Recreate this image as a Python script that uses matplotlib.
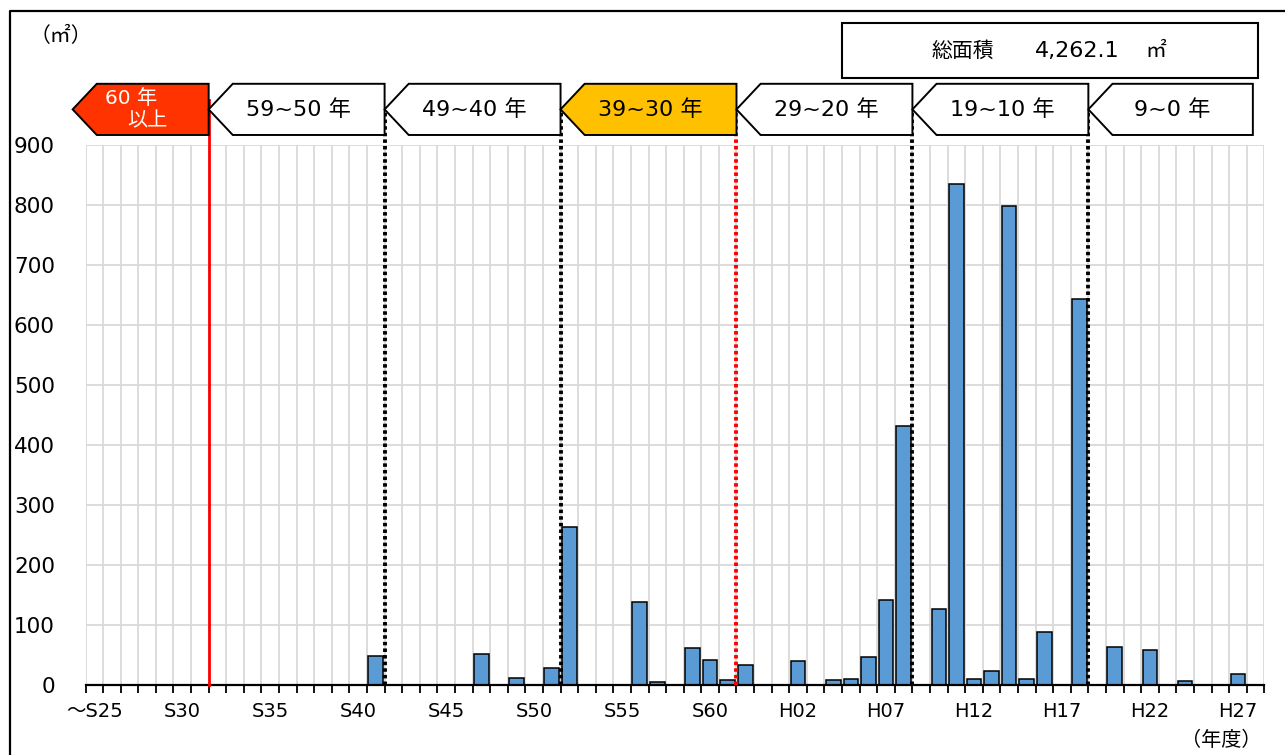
import matplotlib
matplotlib.use("Agg")
import matplotlib.pyplot as plt
from matplotlib.patches import Polygon, Rectangle
from matplotlib.lines import Line2D

plt.rcParams['font.family'] = ['DejaVu Sans', 'Noto Sans CJK JP']

# ---- data ----
years = ([f"S{y}" for y in range(25, 64)] + [f"H{y:02d}" for y in range(1, 29)])
values = [0, 0, 0, 0, 0, 0, 0, 0, 0, 0,
          0, 0, 0, 0, 0, 0, 48, 0, 0, 0,
          0, 0, 52, 0, 12, 0, 28, 263, 0, 0,
          0, 138, 5, 0, 61, 42, 9, 33, 0, 0,
          40, 0, 9, 10, 46, 141, 432, 0, 126, 835,
          10, 23, 799, 10, 88, 0, 643, 0, 64, 0,
          58, 0, 7, 0, 0, 19, 0]
tick_labels = ["～S25", "S30", "S35", "S40", "S45", "S50", "S55", "S60",
               "H02", "H07", "H12", "H17", "H22", "H27"]
age_labels = ["60 年", "59~50 年", "49~40 年", "39~30 年", "29~20 年", "19~10 年", "9~0 年"]
age_start = [0, 7, 17, 27, 37, 47, 57]     # first category index of each group
age_colors = ["#FF3300", "white", "white", "#FFC000", "white", "white", "white"]
divider_styles = [("red", "-"), ("black", ":"), ("black", ":"), ("red", ":"), ("black", ":"), ("black", ":")]
total_text = "4,262.1"

W, H = 1285, 755
fig = plt.figure(figsize=(W / 100, H / 100), dpi=100)
L, R, B, T = 85.5, 1264.3, 685, 145
ax = fig.add_axes([L / W, 1 - B / H, (R - L) / W, (B - T) / H])

n = len(years)
x = list(range(n))
ax.bar(x, values, width=0.83, color="#5B9BD5", edgecolor="black", linewidth=1.1, zorder=3)

ax.set_xlim(-0.5, n - 0.5)
ax.set_ylim(0, 900)

# ticks
bounds = [i - 0.5 for i in range(n + 1)]
ax.set_xticks(bounds)
ax.set_xticklabels([])
ax.tick_params(axis="x", which="major", length=5.5, width=1.3, color="black", direction="out")
lab_pos = [i for i in range(0, n, 5)][:len(tick_labels)]
ax.set_xticks(lab_pos, minor=True)
ax.set_xticklabels(tick_labels, minor=True, fontsize=14)
ax.tick_params(axis="x", which="minor", length=0, pad=12)
ax.set_yticks(range(0, 1000, 100))
ax.set_yticklabels([str(v) for v in range(0, 1000, 100)], fontsize=15.5)
ax.tick_params(axis="y", length=0, pad=22)

ax.grid(True, which="major", color="#D9D9D9", linewidth=1.3, zorder=0)
ax.set_axisbelow(True)
for s in ["top", "right", "left"]:
    ax.spines[s].set_visible(False)
ax.spines["bottom"].set_color("black")
ax.spines["bottom"].set_linewidth(1.6)
ax.spines["bottom"].set_zorder(5)

# dividing lines
for g, (col, ls) in zip(age_start[1:], divider_styles):
    xb = g - 0.5
    if ls == "-":
        ax.plot([xb, xb], [0, 975], color=col, linewidth=2.0, zorder=6, clip_on=False)
    else:
        ax.plot([xb, xb], [0, 958], color=col, linewidth=2.8, linestyle=(0, (0.9, 0.8)),
                zorder=6, clip_on=False)

# age arrows
ytop, ybot = 1002, 916.7
ymid = (ytop + ybot) / 2
depth = 1.37
ends = [s - 0.5 for s in age_start[1:]] + [n - 0.5 - 0.65]
for k, lab in enumerate(age_labels):
    if k == 0:
        xl = -1.23
    else:
        xl = age_start[k] - 0.5
    xr = ends[k]
    poly = Polygon([[xl, ymid], [xl + depth, ytop], [xr, ytop], [xr, ybot], [xl + depth, ybot]],
                   closed=True, facecolor=age_colors[k], edgecolor="black", linewidth=1.4,
                   zorder=7, clip_on=False)
    ax.add_patch(poly)
    if k == 0:
        ax.text(2.1, 978, lab, color="white", fontsize=14.5, ha="center", va="center",
                zorder=8, clip_on=False)
        ax.text(3.0, 940, "以上", color="white", fontsize=14.5, ha="center", va="center",
                zorder=8, clip_on=False)
    else:
        ax.text((xl + xr) / 2 + 0.1, ymid, lab, color="black", fontsize=16, ha="center",
                va="center", zorder=8, clip_on=False)

# header texts and frame
fig.text(61 / W, 1 - 36 / H, "（㎡）", fontsize=15, ha="center", va="center")
fig.text(1221 / W, 1 - 740 / H, "（年度）", fontsize=14.5, ha="center", va="center")
fig.add_artist(Rectangle((842 / W, 1 - 77.7 / H), 416 / W, 55 / H, transform=fig.transFigure,
                         facecolor="white", edgecolor="black", linewidth=1.5))
fig.text(963 / W, 1 - 51 / H, "総面積", fontsize=15, ha="center", va="center")
fig.text(1077 / W, 1 - 51 / H, total_text, fontsize=16, ha="center", va="center")
fig.text(1156 / W, 1 - 51 / H, "㎡", fontsize=15, ha="center", va="center")
fig.add_artist(Line2D([10 / W, 10 / W, 1], [0, 1 - 11 / H, 1 - 11 / H],
                      transform=fig.transFigure, color="black", linewidth=1.6))

fig.savefig("out.png", dpi=100)
